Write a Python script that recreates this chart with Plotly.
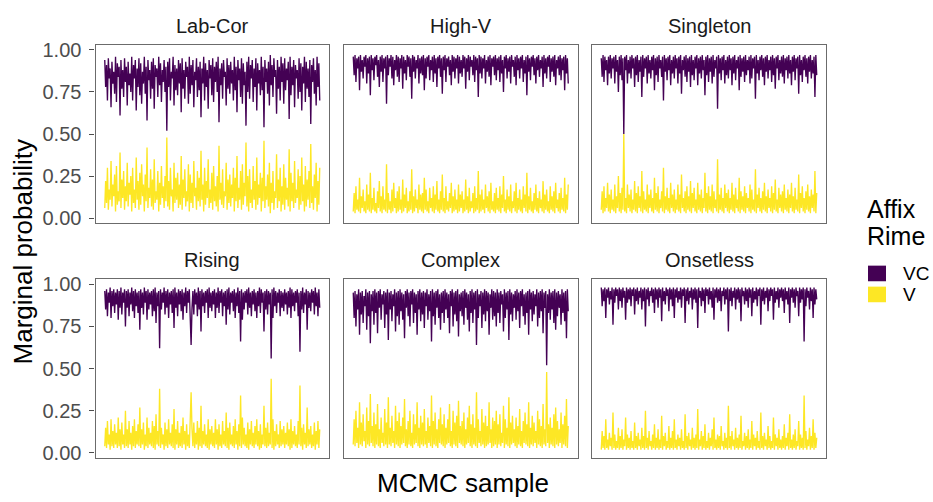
import plotly.graph_objects as go

# ---------------- data (marginal probability, in percent) ----------------
facets = ["Lab-Cor", "High-V", "Singleton", "Rising", "Complex", "Onsetless"]
rime_levels = ["VC", "V"]
rime_colors = ["#440154", "#FDE725"]
y_tick_values = [0.0, 0.25, 0.5, 0.75, 1.0]
y_tick_labels = ["0.00", "0.25", "0.50", "0.75", "1.00"]

labcor_vc = [
    94, 78, 91, 70, 95, 83, 89, 66, 93, 80, 87, 74, 96, 69, 92, 84, 90, 61, 94, 77,
    88, 72, 95, 81, 90, 67, 93, 79, 86, 75, 96, 70, 91, 83, 94, 64, 89, 78, 95, 73,
    92, 68, 87, 80, 96, 74, 90, 58, 94, 82, 88, 71, 93, 77, 95, 65, 91, 84, 89, 72,
    96, 79, 92, 69, 88, 81, 94, 75, 90, 52, 93, 78, 95, 70, 87, 83, 96, 67, 91, 76,
    89, 73, 94, 80, 92, 63, 95, 77, 88, 71, 93, 84, 90, 68, 96, 74, 91, 79, 94, 66,
    87, 82, 95, 72, 90, 76, 93, 60, 89, 80, 96, 70, 92, 78, 88, 65, 94, 83, 91, 73,
    95, 69, 90, 81, 93, 75, 96, 57, 89, 79, 92, 71, 94, 84, 87, 67, 95, 77, 91, 74,
    93, 80, 88, 70, 96, 76, 90, 63, 94, 82, 89, 72, 95, 68, 92, 79, 87, 55, 93, 75,
    96, 71, 91, 83, 94, 69, 89, 78, 95, 64, 92, 80, 88, 73, 96, 76, 90, 54, 94, 81,
    89, 74, 93, 67, 97, 79, 91, 72, 95, 84, 88, 62, 94, 77, 90, 70, 96, 81, 92, 68,
    95, 76, 89, 82, 93, 59, 96, 73, 90, 79, 94, 66, 91, 83, 88, 71, 95, 75, 92, 64,
    90, 80, 96, 69, 93, 77, 89, 72, 94, 56, 91, 81, 95, 74, 88, 67, 96, 78, 92, 70]
labcor_v = [
    6, 22, 9, 30, 5, 17, 11, 34, 7, 20, 13, 26, 4, 31, 8, 16, 10, 39, 6, 23,
    12, 28, 5, 19, 10, 33, 7, 21, 14, 25, 4, 30, 9, 17, 6, 36, 11, 22, 5, 27,
    8, 32, 13, 20, 4, 26, 10, 42, 6, 18, 12, 29, 7, 23, 5, 35, 9, 16, 11, 28,
    4, 21, 8, 31, 12, 19, 6, 25, 10, 48, 7, 22, 5, 30, 13, 17, 4, 33, 9, 24,
    11, 27, 6, 20, 8, 37, 5, 23, 12, 29, 7, 16, 10, 32, 4, 26, 9, 21, 6, 34,
    13, 18, 5, 28, 10, 24, 7, 40, 11, 20, 4, 30, 8, 22, 12, 35, 6, 17, 9, 27,
    5, 31, 10, 19, 7, 25, 4, 43, 11, 21, 8, 29, 6, 16, 13, 33, 5, 23, 9, 26,
    7, 20, 12, 30, 4, 24, 10, 37, 6, 18, 11, 28, 5, 32, 8, 21, 13, 45, 7, 25,
    4, 29, 9, 17, 6, 31, 11, 22, 5, 36, 8, 20, 12, 27, 4, 24, 10, 46, 6, 19,
    11, 26, 7, 33, 3, 21, 9, 28, 5, 16, 12, 38, 6, 23, 10, 30, 4, 19, 8, 32,
    5, 24, 11, 18, 7, 41, 4, 27, 10, 21, 6, 34, 9, 17, 12, 29, 5, 25, 8, 36,
    10, 20, 4, 31, 7, 23, 11, 28, 6, 44, 9, 19, 5, 26, 12, 33, 4, 22, 8, 30]

highv_vc = [
    96, 85, 97, 81, 95, 89, 96, 76, 97, 87, 94, 83, 96, 90, 97, 80, 95, 86, 96, 73,
    97, 88, 95, 82, 96, 91, 97, 84, 94, 78, 96, 87, 97, 81, 95, 89, 96, 68, 97, 85,
    95, 90, 97, 83, 96, 79, 94, 88, 97, 84, 96, 81, 95, 89, 97, 77, 96, 86, 94, 82,
    97, 90, 96, 84, 95, 71, 97, 87, 96, 83, 94, 89, 97, 80, 95, 86, 96, 85, 97, 76,
    95, 83, 96, 90, 97, 82, 94, 88, 96, 81, 97, 86, 95, 78, 96, 89, 97, 84, 95, 74,
    96, 88, 97, 81, 95, 90, 96, 85, 94, 79, 97, 87, 96, 83, 95, 89, 97, 80, 96, 86,
    94, 84, 97, 89, 96, 77, 95, 87, 97, 82, 96, 90, 94, 85, 97, 81, 96, 88, 95, 72,
    97, 86, 96, 83, 95, 89, 97, 80, 94, 87, 96, 84, 97, 79, 95, 90, 96, 85, 97, 82,
    95, 88, 96, 81, 97, 86, 94, 75, 96, 89, 97, 83, 95, 87, 96, 80, 97, 90, 94, 84,
    96, 79, 97, 88, 95, 83, 96, 89, 97, 81, 94, 86, 96, 73, 97, 87, 95, 82, 96, 90,
    97, 85, 95, 80, 96, 88, 97, 84, 94, 89, 96, 78, 97, 86, 95, 83, 96, 90, 97, 81,
    95, 87, 96, 84, 97, 79, 94, 89, 96, 85, 97, 82, 95, 88, 96, 76, 97, 86, 95, 80]
highv_v = [
    4, 15, 3, 19, 5, 11, 4, 24, 3, 13, 6, 17, 4, 10, 3, 20, 5, 14, 4, 27,
    3, 12, 5, 18, 4, 9, 3, 16, 6, 22, 4, 13, 3, 19, 5, 11, 4, 32, 3, 15,
    5, 10, 3, 17, 4, 21, 6, 12, 3, 16, 4, 19, 5, 11, 3, 23, 4, 14, 6, 18,
    3, 10, 4, 16, 5, 29, 3, 13, 4, 17, 6, 11, 3, 20, 5, 14, 4, 15, 3, 24,
    5, 17, 4, 10, 3, 18, 6, 12, 4, 19, 3, 14, 5, 22, 4, 11, 3, 16, 5, 26,
    4, 12, 3, 19, 5, 10, 4, 15, 6, 21, 3, 13, 4, 17, 5, 11, 3, 20, 4, 14,
    6, 16, 3, 11, 4, 23, 5, 13, 3, 18, 4, 10, 6, 15, 3, 19, 4, 12, 5, 28,
    3, 14, 4, 17, 5, 11, 3, 20, 6, 13, 4, 16, 3, 21, 5, 10, 4, 15, 3, 18,
    5, 12, 4, 19, 3, 14, 6, 25, 4, 11, 3, 17, 5, 13, 4, 20, 3, 10, 6, 16,
    4, 21, 3, 12, 5, 17, 4, 11, 3, 19, 6, 14, 4, 27, 3, 13, 5, 18, 4, 10,
    3, 15, 5, 20, 4, 12, 3, 16, 6, 11, 4, 22, 3, 14, 5, 17, 4, 10, 3, 19,
    5, 13, 4, 16, 3, 21, 6, 11, 4, 15, 3, 18, 5, 12, 4, 24, 3, 14, 5, 20]

singleton_vc = [
    95, 84, 97, 81, 96, 88, 94, 79, 96, 86, 97, 83, 95, 89, 96, 80, 97, 87, 94, 75,
    96, 85, 97, 82, 95, 50, 96, 88, 97, 80, 94, 86, 96, 83, 97, 89, 95, 78, 96, 85,
    97, 81, 94, 87, 96, 72, 97, 84, 95, 89, 96, 80, 97, 86, 94, 83, 96, 88, 97, 76,
    95, 85, 96, 81, 97, 89, 94, 84, 96, 70, 97, 87, 95, 82, 96, 88, 97, 79, 94, 86,
    96, 83, 97, 89, 95, 80, 96, 86, 97, 74, 94, 88, 96, 84, 97, 81, 95, 87, 96, 78,
    97, 85, 94, 82, 96, 89, 97, 79, 95, 86, 96, 83, 97, 88, 94, 73, 96, 85, 97, 81,
    95, 87, 96, 80, 97, 84, 94, 89, 96, 65, 97, 86, 95, 82, 96, 88, 97, 80, 94, 85,
    96, 83, 97, 88, 95, 79, 96, 86, 97, 82, 94, 89, 96, 76, 97, 84, 95, 87, 96, 81,
    97, 85, 94, 88, 96, 80, 97, 83, 95, 89, 96, 71, 97, 86, 94, 82, 96, 88, 97, 84,
    95, 79, 96, 87, 97, 83, 94, 88, 96, 81, 97, 85, 95, 77, 96, 89, 97, 82, 94, 86,
    96, 84, 97, 80, 95, 88, 96, 83, 97, 86, 94, 79, 96, 87, 97, 82, 95, 89, 96, 74,
    97, 85, 94, 81, 96, 88, 97, 84, 95, 80, 96, 87, 97, 83, 94, 86, 96, 72, 97, 85]
singleton_v = [
    5, 16, 3, 19, 4, 12, 6, 21, 4, 14, 3, 17, 5, 11, 4, 20, 3, 13, 6, 25,
    4, 15, 3, 18, 5, 50, 4, 12, 3, 20, 6, 14, 4, 17, 3, 11, 5, 22, 4, 15,
    3, 19, 6, 13, 4, 28, 3, 16, 5, 11, 4, 20, 3, 14, 6, 17, 4, 12, 3, 24,
    5, 15, 4, 19, 3, 11, 6, 16, 4, 30, 3, 13, 5, 18, 4, 12, 3, 21, 6, 14,
    4, 17, 3, 11, 5, 20, 4, 14, 3, 26, 6, 12, 4, 16, 3, 19, 5, 13, 4, 22,
    3, 15, 6, 18, 4, 11, 3, 21, 5, 14, 4, 17, 3, 12, 6, 27, 4, 15, 3, 19,
    5, 13, 4, 20, 3, 16, 6, 11, 4, 35, 3, 14, 5, 18, 4, 12, 3, 20, 6, 15,
    4, 17, 3, 12, 5, 21, 4, 14, 3, 18, 6, 11, 4, 24, 3, 16, 5, 13, 4, 19,
    3, 15, 6, 12, 4, 20, 3, 17, 5, 11, 4, 29, 3, 14, 6, 18, 4, 12, 3, 16,
    5, 21, 4, 13, 3, 17, 6, 12, 4, 19, 3, 15, 5, 23, 4, 11, 3, 18, 6, 14,
    4, 16, 3, 20, 5, 12, 4, 17, 3, 14, 6, 21, 4, 13, 3, 18, 5, 11, 4, 26,
    3, 15, 6, 19, 4, 12, 3, 16, 5, 20, 4, 13, 3, 17, 6, 14, 4, 28, 3, 15]

rising_vc = [
    96, 85, 97, 81, 95, 89, 98, 80, 96, 87, 97, 83, 95, 88, 97, 79, 96, 86, 98, 82,
    95, 89, 97, 75, 96, 86, 97, 81, 95, 88, 98, 84, 96, 80, 97, 87, 95, 83, 96, 73,
    97, 86, 95, 82, 98, 89, 96, 79, 97, 85, 95, 88, 96, 81, 97, 84, 98, 77, 95, 87,
    96, 62, 97, 85, 95, 89, 98, 82, 96, 86, 97, 80, 95, 88, 96, 83, 97, 74, 98, 86,
    95, 81, 97, 88, 96, 84, 97, 79, 95, 87, 98, 83, 96, 89, 97, 80, 64, 86, 96, 82,
    97, 88, 95, 81, 98, 85, 96, 72, 97, 87, 95, 83, 96, 89, 97, 80, 98, 86, 95, 84,
    96, 88, 97, 80, 95, 86, 98, 83, 96, 89, 97, 81, 95, 87, 96, 76, 97, 85, 98, 82,
    95, 89, 96, 84, 97, 80, 95, 87, 98, 83, 96, 66, 97, 79, 95, 85, 96, 89, 97, 82,
    98, 86, 95, 81, 96, 88, 97, 84, 95, 80, 96, 87, 98, 83, 97, 89, 95, 72, 96, 85,
    97, 82, 96, 88, 95, 56, 97, 80, 98, 87, 96, 83, 95, 89, 97, 81, 96, 86, 95, 84,
    97, 88, 95, 82, 96, 86, 98, 80, 97, 87, 95, 84, 96, 89, 97, 81, 95, 60, 96, 85,
    98, 83, 95, 88, 97, 73, 96, 86, 95, 84, 97, 89, 96, 82, 98, 87, 95, 81, 97, 86]
rising_v = [
    4, 15, 3, 19, 5, 11, 2, 20, 4, 13, 3, 17, 5, 12, 3, 21, 4, 14, 2, 18,
    5, 11, 3, 25, 4, 14, 3, 19, 5, 12, 2, 16, 4, 20, 3, 13, 5, 17, 4, 27,
    3, 14, 5, 18, 2, 11, 4, 21, 3, 15, 5, 12, 4, 19, 3, 16, 2, 23, 5, 13,
    4, 38, 3, 15, 5, 11, 2, 18, 4, 14, 3, 20, 5, 12, 4, 17, 3, 26, 2, 14,
    5, 19, 3, 12, 4, 16, 3, 21, 5, 13, 2, 17, 4, 11, 3, 20, 36, 14, 4, 18,
    3, 12, 5, 19, 2, 15, 4, 28, 3, 13, 5, 17, 4, 11, 3, 20, 2, 14, 5, 16,
    4, 12, 3, 20, 5, 14, 2, 17, 4, 11, 3, 19, 5, 13, 4, 24, 3, 15, 2, 18,
    5, 11, 4, 16, 3, 20, 5, 13, 2, 17, 4, 34, 3, 21, 5, 15, 4, 11, 3, 18,
    2, 14, 5, 19, 4, 12, 3, 16, 5, 20, 4, 13, 2, 17, 3, 11, 5, 28, 4, 15,
    3, 18, 4, 12, 5, 44, 3, 20, 2, 13, 4, 17, 5, 11, 3, 19, 4, 14, 5, 16,
    3, 12, 5, 18, 4, 14, 2, 20, 3, 13, 5, 16, 4, 11, 3, 19, 5, 40, 4, 15,
    2, 17, 5, 12, 3, 27, 4, 14, 5, 16, 3, 11, 4, 18, 2, 13, 5, 19, 3, 14]

complex_vc = [
    95, 80, 96, 75, 94, 85, 97, 70, 95, 82, 96, 77, 93, 87, 97, 73, 95, 81, 96, 65,
    94, 84, 96, 76, 97, 83, 95, 71, 96, 86, 97, 79, 94, 88, 96, 74, 95, 82, 97, 67,
    95, 85, 96, 78, 94, 87, 97, 72, 95, 81, 96, 76, 97, 84, 95, 79, 94, 68, 96, 86,
    97, 81, 95, 75, 96, 88, 97, 77, 95, 83, 94, 70, 96, 85, 97, 78, 95, 82, 96, 74,
    95, 87, 97, 79, 94, 84, 96, 66, 97, 81, 95, 76, 96, 86, 97, 80, 94, 73, 95, 83,
    96, 77, 97, 85, 95, 80, 94, 71, 96, 87, 97, 75, 95, 82, 96, 78, 97, 69, 94, 84,
    95, 81, 96, 76, 97, 86, 95, 79, 94, 72, 96, 83, 97, 77, 95, 85, 96, 64, 97, 80,
    94, 87, 96, 74, 95, 82, 97, 78, 96, 84, 95, 70, 94, 86, 97, 79, 96, 81, 95, 75,
    97, 83, 95, 77, 96, 88, 94, 72, 97, 80, 95, 85, 96, 67, 97, 82, 95, 78, 94, 86,
    96, 79, 97, 84, 95, 74, 96, 87, 97, 81, 94, 76, 95, 83, 96, 70, 97, 85, 95, 78,
    96, 82, 94, 87, 97, 75, 95, 80, 96, 84, 97, 71, 95, 86, 96, 52, 94, 83, 97, 79,
    95, 85, 96, 77, 97, 73, 95, 81, 96, 86, 94, 76, 97, 83, 95, 78, 96, 68, 97, 84]
complex_v = [
    5, 20, 4, 25, 6, 15, 3, 30, 5, 18, 4, 23, 7, 13, 3, 27, 5, 19, 4, 35,
    6, 16, 4, 24, 3, 17, 5, 29, 4, 14, 3, 21, 6, 12, 4, 26, 5, 18, 3, 33,
    5, 15, 4, 22, 6, 13, 3, 28, 5, 19, 4, 24, 3, 16, 5, 21, 6, 32, 4, 14,
    3, 19, 5, 25, 4, 12, 3, 23, 5, 17, 6, 30, 4, 15, 3, 22, 5, 18, 4, 26,
    5, 13, 3, 21, 6, 16, 4, 34, 3, 19, 5, 24, 4, 14, 3, 20, 6, 27, 5, 17,
    4, 23, 3, 15, 5, 20, 6, 29, 4, 13, 3, 25, 5, 18, 4, 22, 3, 31, 6, 16,
    5, 19, 4, 24, 3, 14, 5, 21, 6, 28, 4, 17, 3, 23, 5, 15, 4, 36, 3, 20,
    6, 13, 4, 26, 5, 18, 3, 22, 4, 16, 5, 30, 6, 14, 3, 21, 4, 19, 5, 25,
    3, 17, 5, 23, 4, 12, 6, 28, 3, 20, 5, 15, 4, 33, 3, 18, 5, 22, 6, 14,
    4, 21, 3, 16, 5, 26, 4, 13, 3, 19, 6, 24, 5, 17, 4, 30, 3, 15, 5, 22,
    4, 18, 6, 13, 3, 25, 5, 20, 4, 16, 3, 29, 5, 14, 4, 48, 6, 17, 3, 21,
    5, 15, 4, 23, 3, 27, 5, 19, 4, 14, 6, 24, 3, 17, 5, 22, 4, 32, 3, 16]

onsetless_vc = [
    98, 87, 97, 90, 98, 80, 97, 92, 98, 88, 96, 91, 98, 76, 97, 89, 98, 93, 97, 85,
    98, 90, 97, 86, 98, 92, 96, 79, 98, 89, 97, 91, 98, 87, 97, 93, 98, 82, 97, 90,
    98, 88, 96, 92, 98, 85, 97, 90, 98, 75, 97, 91, 98, 87, 96, 93, 98, 89, 97, 83,
    98, 91, 97, 86, 98, 92, 97, 78, 98, 90, 96, 88, 98, 93, 97, 84, 98, 91, 97, 87,
    98, 80, 97, 92, 98, 89, 96, 91, 98, 86, 97, 93, 98, 77, 97, 90, 98, 88, 96, 92,
    98, 85, 97, 91, 98, 89, 97, 74, 98, 92, 96, 87, 98, 90, 97, 83, 98, 93, 97, 88,
    98, 91, 96, 86, 98, 79, 97, 92, 98, 89, 97, 90, 98, 84, 96, 93, 98, 88, 97, 91,
    98, 72, 97, 90, 98, 87, 96, 92, 98, 85, 97, 91, 98, 89, 97, 78, 98, 93, 96, 88,
    98, 90, 97, 86, 98, 92, 97, 81, 98, 89, 96, 91, 98, 87, 97, 93, 98, 76, 97, 90,
    98, 88, 96, 92, 98, 84, 97, 90, 98, 93, 97, 79, 98, 89, 96, 91, 98, 86, 97, 92,
    98, 90, 97, 83, 98, 91, 96, 88, 98, 77, 97, 92, 98, 89, 97, 86, 98, 93, 96, 81,
    98, 89, 97, 91, 98, 66, 97, 87, 98, 92, 96, 85, 98, 90, 97, 80, 98, 88, 97, 91]
onsetless_v = [
    2, 13, 3, 10, 2, 20, 3, 8, 2, 12, 4, 9, 2, 24, 3, 11, 2, 7, 3, 15,
    2, 10, 3, 14, 2, 8, 4, 21, 2, 11, 3, 9, 2, 13, 3, 7, 2, 18, 3, 10,
    2, 12, 4, 8, 2, 15, 3, 10, 2, 25, 3, 9, 2, 13, 4, 7, 2, 11, 3, 17,
    2, 9, 3, 14, 2, 8, 3, 22, 2, 10, 4, 12, 2, 7, 3, 16, 2, 9, 3, 13,
    2, 20, 3, 8, 2, 11, 4, 9, 2, 14, 3, 7, 2, 23, 3, 10, 2, 12, 4, 8,
    2, 15, 3, 9, 2, 11, 3, 26, 2, 8, 4, 13, 2, 10, 3, 17, 2, 7, 3, 12,
    2, 9, 4, 14, 2, 21, 3, 8, 2, 11, 3, 10, 2, 16, 4, 7, 2, 12, 3, 9,
    2, 28, 3, 10, 2, 13, 4, 8, 2, 15, 3, 9, 2, 11, 3, 22, 2, 7, 4, 12,
    2, 10, 3, 14, 2, 8, 3, 19, 2, 11, 4, 9, 2, 13, 3, 7, 2, 24, 3, 10,
    2, 12, 4, 8, 2, 16, 3, 10, 2, 7, 3, 21, 2, 11, 4, 9, 2, 14, 3, 8,
    2, 10, 3, 17, 2, 9, 4, 12, 2, 23, 3, 8, 2, 11, 3, 14, 2, 7, 4, 19,
    2, 11, 3, 9, 2, 34, 3, 13, 2, 8, 4, 15, 2, 10, 3, 20, 2, 12, 3, 9]

series = {
    "Lab-Cor": (labcor_vc, labcor_v),
    "High-V": (highv_vc, highv_v),
    "Singleton": (singleton_vc, singleton_v),
    "Rising": (rising_vc, rising_v),
    "Complex": (complex_vc, complex_v),
    "Onsetless": (onsetless_vc, onsetless_v),
}

# ---------------- layout geometry (pixels) ----------------
W, H = 933, 502
col_px = [(95.5, 329.0), (344.0, 577.5), (592.0, 826.0)]
row_px = [(40.0, 222.7), (280.0, 463.3)]
FONT = "Liberation Sans, Arial, sans-serif"


def fx(x):
    return x / W


def fy(y):
    return 1 - y / H


fig = go.Figure()
layout = dict(
    width=W, height=H, margin=dict(l=0, r=0, t=0, b=0),
    paper_bgcolor="white", plot_bgcolor="white", showlegend=False,
    font=dict(family=FONT),
)
annotations = []
shapes = []

for i, name in enumerate(facets):
    r, c = divmod(i, 3)
    k = i + 1
    xa = "x" if k == 1 else f"x{k}"
    ya = "y" if k == 1 else f"y{k}"
    vc, v = series[name]
    n = len(vc)
    for lvl, vals, col in zip(rime_levels, (vc, v), rime_colors):
        fig.add_trace(go.Scatter(
            x=list(range(1, len(vals) + 1)), y=[p / 100 for p in vals],
            mode="lines", name=lvl,
            line=dict(color=col, width=1.35), xaxis=xa, yaxis=ya,
            hoverinfo="skip",
        ))
    span = n - 1
    pad = 0.043 * span
    layout["xaxis" if k == 1 else f"xaxis{k}"] = dict(
        domain=[fx(col_px[c][0]), fx(col_px[c][1])], anchor=ya,
        range=[1 - pad, n + pad], showgrid=False, zeroline=False,
        showticklabels=False, ticks="", showline=True, mirror=True,
        linecolor="#6b6b6b", linewidth=1.2, fixedrange=True,
    )
    ya_cfg = dict(
        domain=[fy(row_px[r][1]), fy(row_px[r][0])], anchor=xa,
        range=[-0.031, 1.029], showgrid=False, zeroline=False,
        showline=True, mirror=True, linecolor="#6b6b6b", linewidth=1.2,
        tickvals=y_tick_values, ticktext=y_tick_labels, fixedrange=True,
    )
    if c == 0:
        ya_cfg.update(ticks="outside", ticklen=5, tickwidth=1.1, tickcolor="#4d4d4d",
                      showticklabels=True, ticklabelstandoff=4,
                      tickfont=dict(size=20, color="#4D4D4D", family=FONT))
    else:
        ya_cfg.update(ticks="", showticklabels=False)
    layout["yaxis" if k == 1 else f"yaxis{k}"] = ya_cfg
    # facet strip title
    annotations.append(dict(
        text=name, xref="paper", yref="paper",
        x=fx((col_px[c][0] + col_px[c][1]) / 2), y=fy(row_px[r][0] - 20),
        xanchor="center", yanchor="middle", showarrow=False,
        font=dict(size=20, color="#1A1A1A", family=FONT),
    ))

# axis titles
annotations.append(dict(
    text="MCMC sample", xref="paper", yref="paper", x=fx(463), y=fy(489),
    xanchor="center", yanchor="middle", showarrow=False,
    font=dict(size=26, color="black", family=FONT),
))
annotations.append(dict(
    text="Marginal probability", xref="paper", yref="paper", x=fx(22.5), y=fy(252),
    xanchor="center", yanchor="middle", showarrow=False, textangle=-90,
    font=dict(size=26, color="black", family=FONT),
))

# legend (title + keys)
for j, word in enumerate(["Affix", "Rime"]):
    annotations.append(dict(
        text=word, xref="paper", yref="paper", x=fx(865), y=fy(207.5 + 28.5 * j),
        xanchor="left", yanchor="middle", showarrow=False,
        font=dict(size=25, color="black", family=FONT),
    ))
for j, (lvl, col) in enumerate(zip(rime_levels, rime_colors)):
    top = 266 + 21.5 * j
    shapes.append(dict(
        type="rect", xref="paper", yref="paper",
        x0=fx(868), x1=fx(886), y0=fy(top + 16), y1=fy(top),
        fillcolor=col, line=dict(width=0),
    ))
    annotations.append(dict(
        text=lvl, xref="paper", yref="paper", x=fx(901), y=fy(top + 8),
        xanchor="left", yanchor="middle", showarrow=False,
        font=dict(size=19, color="black", family=FONT),
    ))

layout["annotations"] = annotations
layout["shapes"] = shapes
fig.update_layout(**layout)
fig.write_html("out.html")
